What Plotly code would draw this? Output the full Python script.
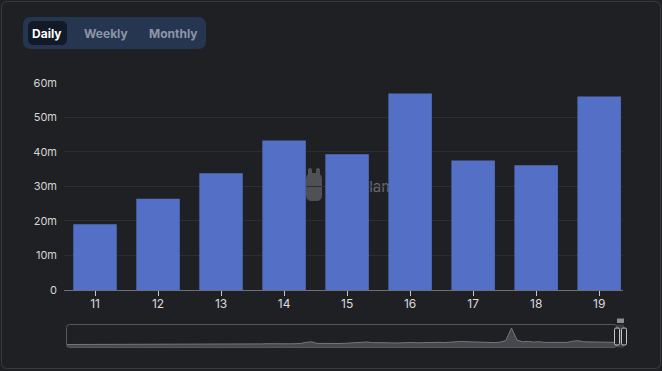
import plotly.graph_objects as go

# ---- data ----
days = [11, 12, 13, 14, 15, 16, 17, 18, 19]
volumes = [19.0e6, 26.4e6, 33.8e6, 43.3e6, 39.3e6, 56.9e6, 37.5e6, 36.1e6, 56.0e6]
y_tickvals = [0, 10e6, 20e6, 30e6, 40e6, 50e6, 60e6]
y_ticktext = ["0", "10m", "20m", "30m", "40m", "50m", "60m"]
# overview (data-zoom slider) series, relative heights
overview = [
    2.5, 2.5, 2.5, 2.5, 2.5, 2.6, 2.5, 2.6, 2.5, 2.6,
    2.6, 2.5, 2.6, 2.6, 2.5, 2.6, 2.6, 2.7, 2.6, 2.6,
    2.7, 2.6, 2.7, 2.8, 2.7, 2.8, 3.0, 2.8, 2.9, 3.0,
    2.9, 3.1, 3.0, 3.2, 3.0, 3.1, 3.3, 3.1, 3.2, 3.3,
    3.2, 3.3, 3.5, 4.6, 5.2, 3.6, 3.4, 3.5, 3.6, 3.5,
    3.7, 3.9, 4.2, 4.6, 5.0, 4.4, 4.1, 3.9, 4.2, 4.0,
    4.3, 4.1, 4.5, 4.2, 4.4, 4.6, 4.3, 4.7, 4.4, 4.9,
    5.1, 5.6, 5.3, 5.0, 4.8, 4.5, 4.7, 4.4, 4.9, 6.5,
    19.0, 7.0, 5.2, 5.6, 4.9, 5.3, 4.6, 4.5, 4.4, 4.3,
    4.6, 5.8, 6.3, 5.2, 5.0, 5.1, 4.8, 4.9, 4.7, 4.6,
]
buttons = ["Daily", "Weekly", "Monthly"]
watermark = "DefiLlama"

W, H = 662, 371
BG = "#1f2024"


def px(x):
    return x / W


def py(y):
    return 1 - y / H


def rrect(x0, y0, x1, y1, r):
    X0, X1 = px(x0), px(x1)
    Y0, Y1 = py(y0), py(y1)
    rx, ry = r / W, r / H
    return (f"M{X0+rx},{Y0} L{X1-rx},{Y0} Q{X1},{Y0} {X1},{Y0-ry} "
            f"L{X1},{Y1+ry} Q{X1},{Y1} {X1-rx},{Y1} L{X0+rx},{Y1} "
            f"Q{X0},{Y1} {X0},{Y1+ry} L{X0},{Y0-ry} Q{X0},{Y0} {X0+rx},{Y0} Z")


fig = go.Figure()

fig.add_trace(go.Bar(
    x=days, y=volumes, width=0.69,
    marker=dict(color="#5470c6", line=dict(width=0)),
    xaxis="x", yaxis="y", hoverinfo="skip",
))

fig.add_trace(go.Scatter(
    x=list(range(len(overview))), y=overview, mode="lines",
    line=dict(color="#75767d", width=1),
    fill="tozeroy", fillcolor="rgba(120,121,130,0.45)",
    xaxis="x2", yaxis="y2", hoverinfo="skip",
))

shapes = []
# outer frame
shapes.append(dict(type="path", path=rrect(1.5, 1.5, 660.5, 368.5, 6), xref="paper", yref="paper",
                   line=dict(color="#3a3b41", width=1), fillcolor="rgba(0,0,0,0)", layer="below"))
# button group
shapes.append(dict(type="path", path=rrect(23, 17, 206, 49, 8), xref="paper", yref="paper",
                   line=dict(width=0), fillcolor="#263550", layer="below"))
shapes.append(dict(type="path", path=rrect(28, 21, 67, 45, 6), xref="paper", yref="paper",
                   line=dict(width=0), fillcolor="#121927", layer="below"))
# watermark logo and text (behind bars)
shapes.append(dict(type="path", path=rrect(306, 173, 322, 201, 6), xref="paper", yref="paper",
                   line=dict(width=0), fillcolor="#505157", layer="below"))
shapes.append(dict(type="path", path=rrect(308, 168, 312, 177, 2), xref="paper", yref="paper",
                   line=dict(width=0), fillcolor="#505157", layer="below"))
shapes.append(dict(type="path", path=rrect(316, 168, 320, 177, 2), xref="paper", yref="paper",
                   line=dict(width=0), fillcolor="#505157", layer="below"))
shapes.append(dict(type="rect", x0=px(326), x1=px(400), y0=py(196), y1=py(176), xref="paper", yref="paper",
                   line=dict(width=0), fillcolor="rgba(0,0,0,0)", layer="below",
                   label=dict(text=watermark, font=dict(color="#66676d", size=15, family="Inter"),
                              textposition="middle left")))
# slider frame
shapes.append(dict(type="path", path=rrect(66.5, 324.5, 617, 347.5, 3), xref="paper", yref="paper",
                   line=dict(color="#57585e", width=1), fillcolor="rgba(0,0,0,0)"))
# slider selected window
shapes.append(dict(type="rect", x0=px(617), x1=px(624), y0=py(347.5), y1=py(324.5), xref="paper", yref="paper",
                   line=dict(width=0), fillcolor="rgba(90,91,98,0.5)"))
# handles
for hx in (614.5, 621.5):
    shapes.append(dict(type="path", path=rrect(hx, 328, hx + 5, 345, 1.5), xref="paper", yref="paper",
                       line=dict(color="#c4c5ca", width=1), fillcolor=BG))
shapes.append(dict(type="rect", x0=px(617), x1=px(624), y0=py(323), y1=py(318.5), xref="paper", yref="paper",
                   line=dict(width=0), fillcolor="#8d8e94"))

annotations = []
btn_x = [47, 106, 173]
for i, (b, bx) in enumerate(zip(buttons, btn_x)):
    annotations.append(dict(
        text=f"<b>{b}</b>", x=px(bx), y=py(33), xref="paper", yref="paper",
        showarrow=False, xanchor="center", yanchor="middle",
        font=dict(family="Inter", size=12, color="#ffffff" if i == 0 else "#8c96a8"),
    ))

fig.update_layout(
    width=W, height=H,
    margin=dict(l=0, r=0, t=0, b=0, pad=0, autoexpand=False),
    paper_bgcolor=BG, plot_bgcolor=BG,
    showlegend=False,
    font=dict(family="Inter", color="#d6d6d6"),
    bargap=0.3,
    xaxis=dict(
        domain=[px(64), px(623)], range=[10.508, 19.378],
        tickmode="array", tickvals=days, ticktext=[str(d) for d in days],
        ticks="outside", ticklen=5, tickcolor="#c8c8c8", tickwidth=1,
        showline=True, linecolor="#6e7079", linewidth=1,
        showgrid=False, zeroline=False, automargin=False,
        ticklabelstandoff=-2,
        tickfont=dict(size=12, color="#dcdcdc"),
        fixedrange=True,
    ),
    yaxis=dict(
        domain=[py(290), py(82.7)], range=[0, 60e6],
        tickmode="array", tickvals=y_tickvals, ticktext=y_ticktext,
        showgrid=True, gridcolor="#2d2e34", gridwidth=1,
        zeroline=False, showline=False, ticks="", automargin=False,
        ticklabelstandoff=6,
        tickfont=dict(size=11, color="#d6d6d6"),
        fixedrange=True,
    ),
    xaxis2=dict(
        domain=[px(67), px(617)], range=[0, len(overview) - 1], anchor="y2",
        visible=False, fixedrange=True, automargin=False,
    ),
    yaxis2=dict(
        domain=[py(347), py(325)], range=[0, 22], anchor="x2",
        visible=False, fixedrange=True, automargin=False,
    ),
    shapes=shapes,
    annotations=annotations,
)

post = (
    "document.body.style.margin='0';"
    "document.body.style.overflow='hidden';"
    "document.body.style.background='" + BG + "';"
    "var gd=document.getElementById('{plot_id}');"
    "gd.style.position='fixed';gd.style.top='0px';gd.style.left='0px';"
)
fig.write_html("out.html", config=dict(displayModeBar=False), post_script=post)
